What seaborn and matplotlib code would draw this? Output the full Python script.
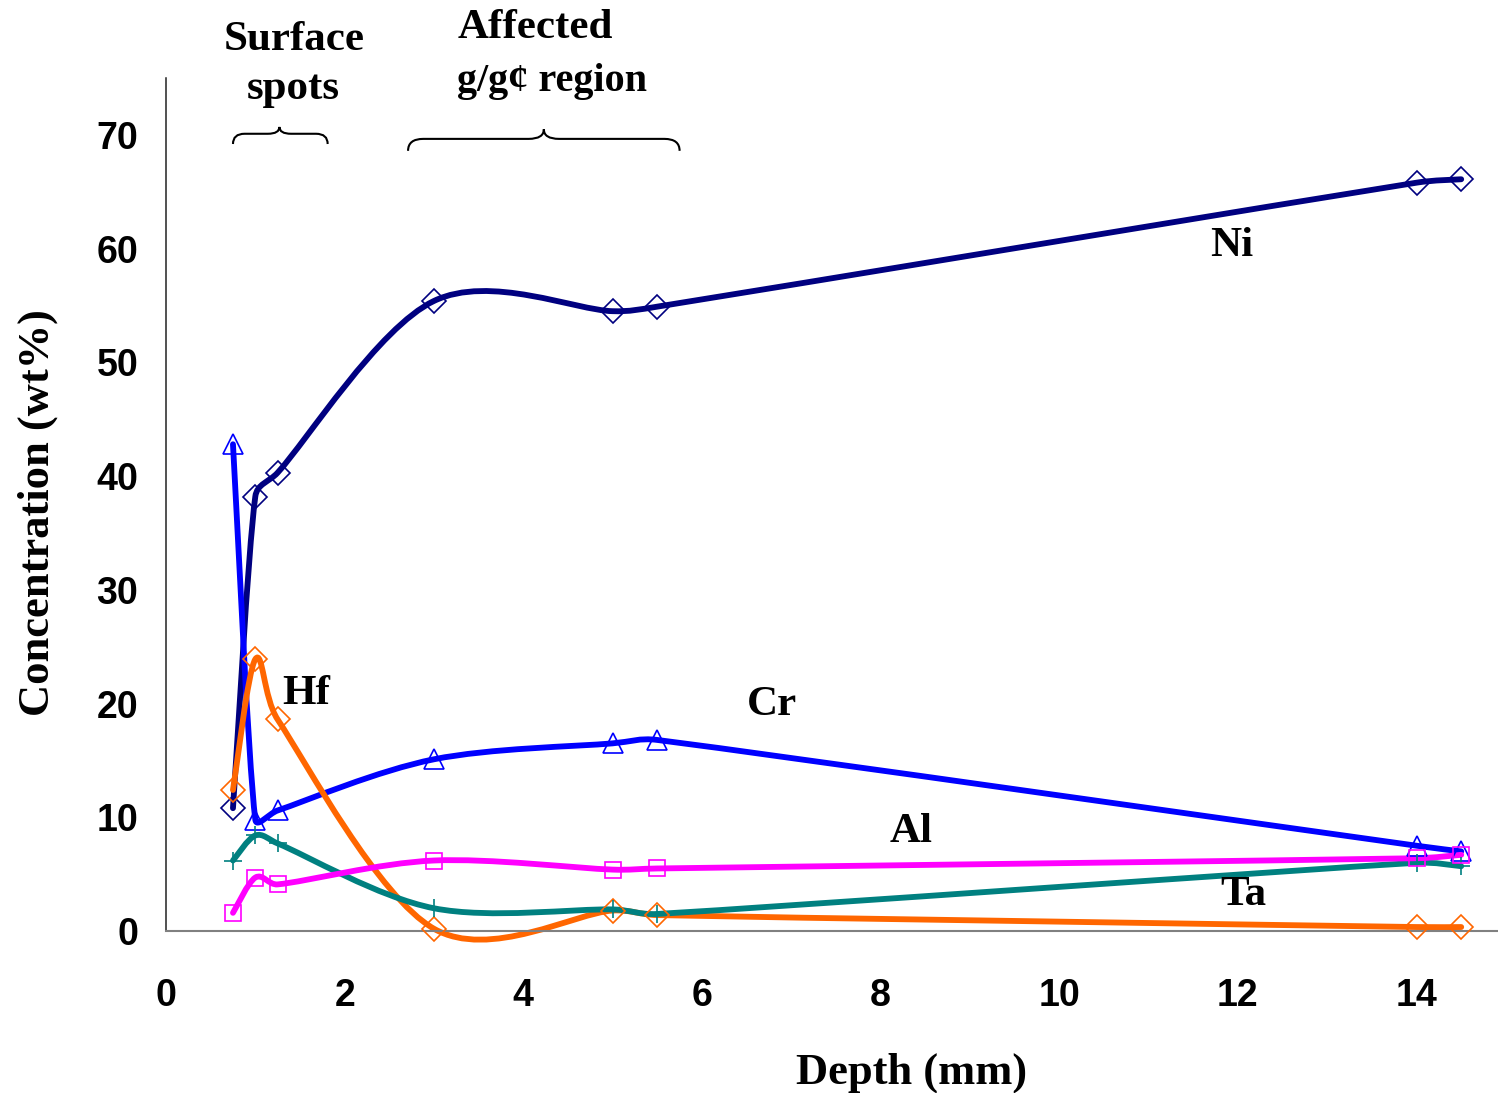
import numpy as np
import pandas as pd
import seaborn as sns
import matplotlib.pyplot as plt
from matplotlib.path import Path
from matplotlib.patches import PathPatch

sns.set_theme(style="white")
plt.rcParams['font.family'] = ['Liberation Serif', 'DejaVu Sans']
plt.rcParams['text.color'] = 'black'
plt.rcParams['axes.labelcolor'] = 'black'

# depth of each measurement (mm)
depth = [0.75, 1.0, 1.25, 3.0, 5.0, 5.5, 14.0, 14.5]

# concentrations (wt%)
ni = [10.8, 38.2, 40.3, 55.4, 54.5, 54.9, 65.8, 66.1]
cr = [42.8, 9.8, 10.6, 15.1, 16.5, 16.8, 7.5, 7.0]
hf = [12.4, 23.9, 18.6, 0.2, 1.8, 1.4, 0.35, 0.35]
ta = [6.2, 8.4, 7.7, 2.0, 1.9, 1.5, 6.0, 5.7]
al = [1.6, 4.7, 4.1, 6.2, 5.4, 5.5, 6.4, 6.7]

series = [
    ("Ni", ni, "#000080", "D", 12),
    ("Cr", cr, "#0000FF", "^", 14),
    ("Hf", hf, "#FF6600", "D", 12),
    ("Ta", ta, "#008080", "+", 13),
    ("Al", al, "#FF00FF", "s", 11.5),
]


def smooth_path(ax, xs, ys, k=1/6, lim=0.4):
    # excel-like smoothed line: catmull-rom bezier in screen space
    p = ax.transData.transform(np.column_stack([xs, ys]))
    n = len(p)
    verts = [p[0]]
    codes = [Path.MOVETO]
    for i in range(n - 1):
        a = p[i - 1] if i > 0 else p[i]
        b, c = p[i], p[i + 1]
        d = p[i + 2] if i + 2 < n else p[i + 1]
        seg = np.hypot(*(c - b))
        t1 = (c - a) * k
        t2 = (d - b) * k
        l1 = np.hypot(*t1)
        l2 = np.hypot(*t2)
        if l1 > lim * seg:
            t1 = t1 * lim * seg / l1
        if l2 > lim * seg:
            t2 = t2 * lim * seg / l2
        verts += [b + t1, c - t2, c]
        codes += [Path.CURVE4] * 3
    verts = ax.transData.inverted().transform(np.array(verts))
    return Path(verts, codes)


def brace(ax, x0, x1, xc, ybase, ymid, ytip, r):
    verts = [(x0, ybase), (x0, ymid), (x0 + r, ymid), (xc - r, ymid),
             (xc, ymid), (xc, ytip), (xc, ymid), (xc + r, ymid),
             (x1 - r, ymid), (x1, ymid), (x1, ybase)]
    codes = [Path.MOVETO, Path.CURVE3, Path.CURVE3, Path.LINETO,
             Path.CURVE3, Path.CURVE3, Path.CURVE3, Path.CURVE3,
             Path.LINETO, Path.CURVE3, Path.CURVE3]
    ax.add_patch(PathPatch(Path(verts, codes), fill=False, lw=1.5,
                           edgecolor="black", clip_on=False))


fig = plt.figure(figsize=(14.98, 10.93), dpi=100)
ax = fig.add_axes([0.1108, 0.1482, 0.8885, 0.7804])
ax.set_xlim(0, 14.9)
ax.set_ylim(0, 75)

for name, vals, col, mk, ms in series:
    path = smooth_path(ax, depth, vals)
    ax.add_patch(PathPatch(path, fill=False, edgecolor=col, lw=4.2,
                           capstyle="round", joinstyle="round",
                           clip_on=False, zorder=2))
    df = pd.DataFrame({"depth": depth, "conc": vals})
    sns.lineplot(data=df, x="depth", y="conc", ax=ax, linestyle="",
                 marker=mk, ms=ms, mfc="none", mec=col, mew=1.2,
                 color=col, clip_on=False, zorder=3)

sns.despine(ax=ax)
ax.spines["left"].set_color("#222222")
ax.spines["bottom"].set_color("#808080")
ax.spines["left"].set_linewidth(1.1)
ax.spines["bottom"].set_linewidth(1.5)

ax.set_xticks(range(0, 15, 2))
ax.set_yticks(range(0, 71, 10))
ax.tick_params(axis="x", direction="out", length=8, width=1.1,
               color="#333333", pad=26)
ax.tick_params(axis="y", direction="out", length=10, width=1.1,
               color="#808080", pad=10)
for lab in ax.get_xticklabels() + ax.get_yticklabels():
    lab.set_fontfamily("Liberation Sans")
    lab.set_fontweight("bold")
    lab.set_fontsize(27)
    lab.set_color("black")

ax.set_xlabel("Depth (mm)", fontsize=32, fontweight="bold", color="black")
ax.set_ylabel("Concentration (wt%)", fontsize=32, fontweight="bold",
              color="black")
ax.xaxis.set_label_coords(0.56, -0.142)
ax.yaxis.set_label_coords(-0.081, 0.49)

lbl = dict(fontsize=31, fontweight="bold", ha="center", va="center",
           color="black")
ax.text(11.93, 60.2, "Ni", **lbl)
ax.text(6.78, 19.9, "Cr", **lbl)
ax.text(1.57, 20.8, "Hf", **lbl)
ax.text(8.34, 8.7, "Al", **lbl)
ax.text(12.06, 3.2, "Ta", **lbl)

ax.text(1.43, 76.2, "Surface\nspots", fontsize=31, fontweight="bold",
        ha="center", va="center", linespacing=1.4, color="black")
ax.text(3.26, 79.4, "Affected", fontsize=31, fontweight="bold",
        ha="left", va="center", color="black")
ax.text(3.26, 74.7, "g/g\u00a2 region", fontsize=29, fontweight="bold",
        ha="left", va="center", color="black")

brace(ax, 0.75, 1.81, 1.27, 69.2, 70.1, 70.7, 0.13)
brace(ax, 2.71, 5.75, 4.23, 68.6, 69.65, 70.5, 0.17)

fig.savefig("out.png", dpi=100)
